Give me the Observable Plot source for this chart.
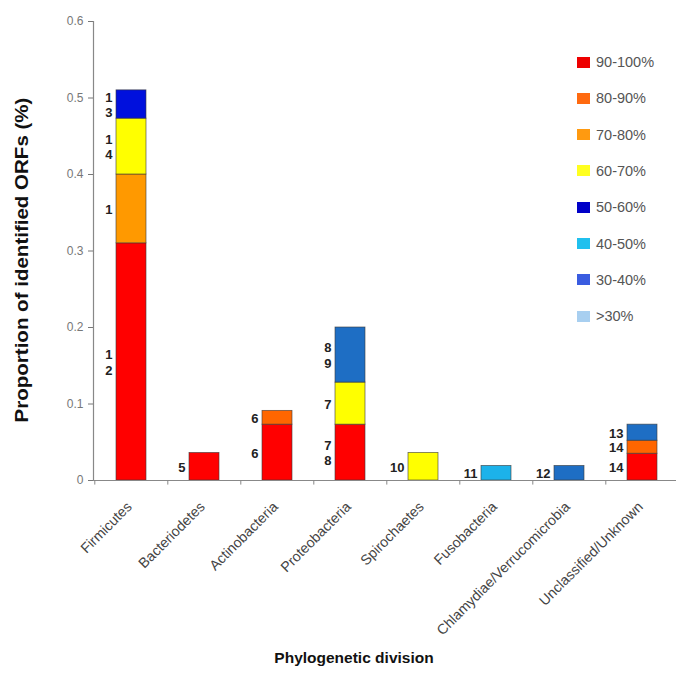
<!DOCTYPE html>
<html>
<head>
<meta charset="utf-8">
<script src="https://cdn.jsdelivr.net/npm/d3@7"></script>
<script src="https://cdn.jsdelivr.net/npm/@observablehq/plot@0.6"></script>
<style>
  html, body { margin: 0; padding: 0; background: #fff; }
  #wrap { position: relative; width: 676px; height: 677px; font-family: "Liberation Sans", Arial, sans-serif; overflow: hidden; }
  #wrap svg { position: absolute; left: 0; top: 0; }
  .ytitle { position: absolute; left: 22px; top: 260px; transform: translate(-50%, -50%) rotate(-90deg) scaleX(1.14); white-space: nowrap; font-weight: bold; font-size: 18px; color: #111; }
  .xtitle { position: absolute; left: 354px; top: 658px; transform: translate(-50%, -50%); white-space: nowrap; font-weight: bold; font-size: 15.5px; color: #111; }
  .legend { position: absolute; left: 577px; top: 0; }
  .legend .row { position: absolute; left: 0; height: 14px; display: flex; align-items: center; white-space: nowrap; }
  .legend .sw { width: 13px; height: 11px; margin-right: 6px; box-sizing: border-box; }
  .legend .lb { font-size: 14.5px; color: #555; }
</style>
</head>
<body>
<div id="wrap"></div>
<script>
// ---- data ----
const categories = ["Firmicutes", "Bacteriodetes", "Actinobacteria", "Proteobacteria",
  "Spirochaetes", "Fusobacteria", "Chlamydiae/Verrucomicrobia", "Unclassified/Unknown"];
const seriesNames = ["90-100%", "80-90%", "70-80%", "60-70%", "50-60%", "40-50%", "30-40%", ">30%"];
const seriesColors = ["#ff0000", "#ff6600", "#ff9900", "#ffff00", "#0010dd", "#1cb2ea", "#1e6ec4", "#a8cff0"];
const legendColors = ["#ee0000", "#ff6a10", "#ff9a10", "#ffff20", "#0000c8", "#20c0ee", "#3a5ce0", "#a8cff0"];

// stacked segments, bottom to top within each category
const segCategory = ["Firmicutes", "Firmicutes", "Firmicutes", "Firmicutes",
  "Bacteriodetes",
  "Actinobacteria", "Actinobacteria",
  "Proteobacteria", "Proteobacteria", "Proteobacteria",
  "Spirochaetes",
  "Fusobacteria",
  "Chlamydiae/Verrucomicrobia",
  "Unclassified/Unknown", "Unclassified/Unknown", "Unclassified/Unknown"];
const segSeries = ["90-100%", "70-80%", "60-70%", "50-60%",
  "90-100%",
  "90-100%", "80-90%",
  "90-100%", "60-70%", "30-40%",
  "60-70%",
  "40-50%",
  "30-40%",
  "90-100%", "80-90%", "30-40%"];
const segValue = [0.310, 0.090, 0.073, 0.037,
  0.036,
  0.073, 0.018,
  0.073, 0.055, 0.072,
  0.036,
  0.019,
  0.019,
  0.035, 0.017, 0.021];
const segLabel = ["1\n2", "1", "1\n4", "1\n3",
  "5",
  "6", "6",
  "7\n8", "7", "8\n9",
  "10",
  "11",
  "12",
  "14", "14", "13"];

const yTicks = [0, 0.1, 0.2, 0.3, 0.4, 0.5, 0.6];
const yTickLabels = ["0", "0.1", "0.2", "0.3", "0.4", "0.5", "0.6"];

// ---- build table ----
const base = {};
const segs = segCategory.map((c, i) => {
  const y1 = base[c] || 0;
  const y2 = y1 + segValue[i];
  base[c] = y2;
  return { category: c, series: segSeries[i], value: segValue[i], y1, y2, mid: (y1 + y2) / 2, label: segLabel[i] };
});

const chart = Plot.plot({
  width: 676,
  height: 677,
  marginLeft: 93,
  marginRight: 0,
  marginTop: 21,
  marginBottom: 197,
  style: { fontFamily: "'Liberation Sans', Arial, sans-serif", background: "white", overflow: "visible" },
  x: { domain: categories, range: [93, 680], paddingInner: 0.59, paddingOuter: 0.295, align: 0.5, label: null },
  y: { domain: [0, 0.6], label: null },
  color: { domain: seriesNames, range: seriesColors },
  marks: [
    Plot.barY(segs, { x: "category", y1: "y1", y2: "y2", fill: "series", stroke: "#3a3a3a", strokeWidth: 0.8, strokeOpacity: 0.75 }),
    Plot.text(segs, { x: "category", y: "mid", text: "label", dx: -19, textAnchor: "end", fontWeight: "bold", fontSize: 13, lineHeight: 1.2, fill: "#222" }),
    Plot.ruleY([0], { stroke: "#888", strokeWidth: 1.2 }),
    Plot.frame({ anchor: "left", stroke: "#888", strokeWidth: 1.2 }),
    Plot.ruleX(categories, { x: d => d, y1: 0, y2: -0.006, dx: -36.7, stroke: "#888", clip: false }),
    Plot.axisY({ ticks: yTicks, tickFormat: (d, i) => yTickLabels[yTicks.indexOf(d)], tickSize: 5, tickPadding: 5, fontSize: 12, color: "#777", label: null }),
    Plot.axisX({ tickSize: 0, tickPadding: 24, tickRotate: -45, fontSize: 14.2, color: "#444", dx: -2, label: null })
  ]
});

const wrap = document.getElementById("wrap");
wrap.appendChild(chart);

const yt = document.createElement("div");
yt.className = "ytitle";
yt.textContent = "Proportion of identified ORFs (%)";
wrap.appendChild(yt);

const xt = document.createElement("div");
xt.className = "xtitle";
xt.textContent = "Phylogenetic division";
wrap.appendChild(xt);

const lg = document.createElement("div");
lg.className = "legend";
seriesNames.forEach((s, i) => {
  const row = document.createElement("div");
  row.className = "row";
  row.style.top = (62 + i * 36.3 - 7) + "px";
  const sw = document.createElement("span");
  sw.className = "sw";
  sw.style.background = legendColors[i];
  const lb = document.createElement("span");
  lb.className = "lb";
  lb.textContent = s;
  row.appendChild(sw);
  row.appendChild(lb);
  lg.appendChild(row);
});
wrap.appendChild(lg);
</script>
</body>
</html>
